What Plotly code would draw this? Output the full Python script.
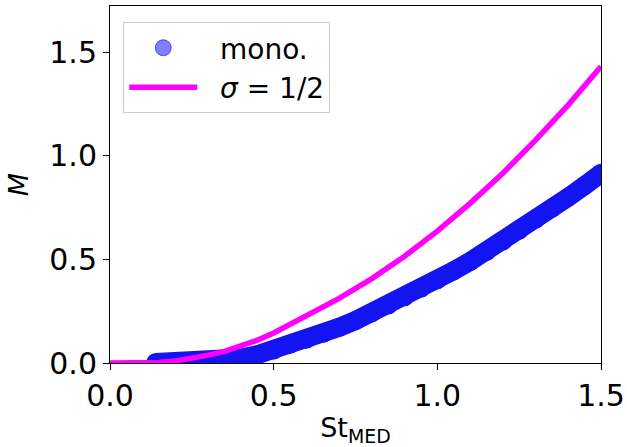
import plotly.graph_objects as go

# mono. data (St_MED, M)
mono_x = [0.14, 0.2, 0.25, 0.3, 0.35, 0.4, 0.45, 0.5, 0.55, 0.6, 0.65, 0.7, 0.75,
          0.8, 0.85, 0.9, 0.95, 1.0, 1.05, 1.1, 1.15, 1.2, 1.25, 1.3, 1.35, 1.4, 1.45, 1.5]
mono_M = [0.003, 0.003, 0.004, 0.006, 0.012, 0.024, 0.04, 0.063, 0.09, 0.115, 0.142, 0.172,
          0.205, 0.242, 0.28, 0.32, 0.36, 0.402, 0.445, 0.49, 0.538, 0.588, 0.64, 0.693,
          0.746, 0.8, 0.856, 0.915]

# sigma = 1/2 curve
sig_x = [0.0, 0.1, 0.15, 0.2, 0.25, 0.3, 0.35, 0.4, 0.45, 0.5, 0.55, 0.6, 0.7, 0.8, 0.9,
         1.0, 1.1, 1.2, 1.3, 1.4, 1.5]
sig_M = [0.0, 0.0, 0.002, 0.01, 0.022, 0.038, 0.056, 0.08, 0.11, 0.145, 0.185, 0.227,
         0.312, 0.407, 0.515, 0.636, 0.77, 0.915, 1.075, 1.245, 1.43]

xticks = [0.0, 0.5, 1.0, 1.5]
yticks = [0.0, 0.5, 1.0, 1.5]
ticklabels = ["0.0", "0.5", "1.0", "1.5"]

fig = go.Figure()
# mono. band (dense overlapping markers look like a solid band)
fig.add_trace(go.Scatter(
    x=mono_x, y=mono_M, mode="lines+markers",
    line=dict(color="rgb(20,20,242)", width=19),
    marker=dict(size=19, color="rgb(20,20,242)"),
    showlegend=False, hoverinfo="skip"))
# legend entry for mono.
fig.add_trace(go.Scatter(
    x=[None], y=[None], mode="markers", name="\u00a0\u00a0mono.",
    marker=dict(size=18, color="rgba(0,0,255,0.5)",
                line=dict(color="rgba(0,0,255,0.6)", width=1))))
fig.add_trace(go.Scatter(
    x=sig_x, y=sig_M, mode="lines", name="\u00a0\u00a0<i>σ</i> = 1/2",
    line=dict(color="#ff00ff", width=5.5)))

tickfont = dict(family="DejaVu Sans", size=30, color="black")
fig.update_layout(
    width=627, height=447,
    margin=dict(l=110, r=26, t=6, b=84),
    paper_bgcolor="white", plot_bgcolor="white",
    font=dict(family="DejaVu Sans", color="black"),
    legend=dict(x=0.027, y=0.955, xanchor="left", yanchor="top",
                font=dict(size=28, family="DejaVu Sans"),
                bordercolor="#cccccc", borderwidth=1, bgcolor="rgba(255,255,255,0.8)",
                itemwidth=68, tracegroupgap=0),
    xaxis=dict(range=[0, 1.5], tickvals=xticks, ticktext=ticklabels, automargin=False,
               showgrid=False, zeroline=False, showline=True, linecolor="black",
               linewidth=1, mirror=True, ticks="outside", ticklen=6, tickcolor="black",
               tickfont=tickfont,
               title=dict(text="St<sub>MED</sub>", font=dict(size=27), standoff=9)),
    yaxis=dict(range=[0, 1.722], tickvals=yticks, ticktext=ticklabels, automargin=False,
               showgrid=False, zeroline=False, showline=True, linecolor="black",
               linewidth=1, mirror=True, ticks="outside", ticklen=6, tickcolor="black",
               tickfont=tickfont,
               title=dict(text="<i>M</i>", font=dict(size=27), standoff=12)),
)
fig.write_html("out.html")
